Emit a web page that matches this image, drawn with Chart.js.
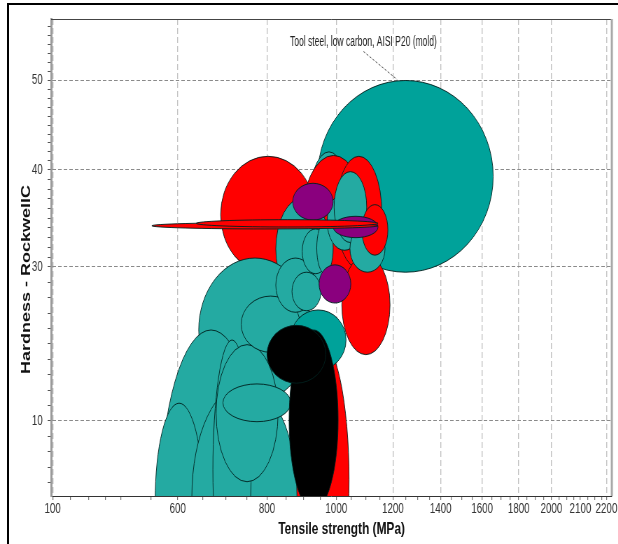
<!DOCTYPE html>
<html>
<head>
<meta charset="utf-8">
<script src="https://cdn.jsdelivr.net/npm/chart.js@4.4.1/dist/chart.umd.min.js"></script>
<style>
  html, body { margin: 0; padding: 0; background: #fff; overflow: hidden; }
  /* the original export is squeezed sideways, so draw wide and squeeze */
  #wrap { width: 883px; height: 544px; transform: scaleX(0.7); transform-origin: 0 0; }
</style>
</head>
<body>
<div id="wrap"><canvas id="chart" width="883" height="544"></canvas></div>
<script>
// --- axis ticks (value where the tick sits, label printed under it)
const xTickValues = [401, 600, 800, 1000, 1200, 1400, 1600, 1800, 2000, 2196, 2388];
const xTickLabels = ['100', '600', '800', '1000', '1200', '1400', '1600', '1800', '2000', '2100', '2200'];
const xMinorTicks = [425, 450, 475, 500, 550, 650, 700, 750, 850, 900, 950, 1050, 1100, 1150, 1250, 1300, 1350,
    1450, 1500, 1550, 1650, 1700, 1750, 1850, 1900, 1950, 2050, 2100, 2150, 2250, 2300, 2350];
const yTickValues = [10, 30, 40, 50];
const yTickLabels = ['10', '30', '40', '50'];
const yMinorTicks = [2, 4, 6, 8, 12, 14, 16, 18, 20, 22, 24, 26, 28, 31, 32, 33, 34, 35, 36, 37, 38, 39,
    41, 42, 43, 44, 45, 46, 47, 48, 49, 51, 52, 53, 54, 55, 56];

// --- material bubbles, back to front: tensile min, tensile max (MPa), hardness min, hardness max (HRC), family
const bubbles = [
    [942, 1658, 29.3, 50.0, 'deep'],     // Tool steel, low carbon, AISI P20 (mold)
    [913, 1045, 29.6, 42.0, 'teal'],
    [689, 935, 29.2, 41.5, 'red'],
    [893, 1100, 26.7, 41.6, 'red'],
    [999, 1158, 29.8, 41.5, 'red'],
    [1018, 1189, 18.6, 31.2, 'red'],
    [862, 1042, -15.8, 20.5, 'red'],
    [823, 980, 25.7, 37.1, 'teal'],
    [690, 862, 14.0, 27.2, 'teal'],
    [642, 922, 12.5, 30.9, 'teal'],
    [567, 787, -23.6, 21.8, 'teal'],
    [558, 651, -12.9, 12.3, 'teal'],
    [628, 881, -14.3, 14.8, 'teal'],
    [672, 760, -13.2, 20.5, 'teal'],
    [679, 829, 2.1, 19.9, 'teal'],
    [694, 864, 9.9, 14.8, 'teal'],
    [736, 890, 18.9, 26.2, 'teal'],
    [823, 934, 24.1, 30.9, 'teal'],
    [867, 952, 24.3, 29.3, 'teal'],
    [896, 977, 29.1, 33.9, 'teal'],
    [939, 990, 29.1, 34.6, 'teal'],
    [971, 1086, 31.7, 37.6, 'teal'],
    [993, 1103, 32.5, 39.8, 'teal'],
    [1045, 1170, 29.3, 34.3, 'teal'],
    [1086, 1181, 31.2, 36.4, 'red'],
    [869, 990, 34.8, 38.6, 'purple'],
    [990, 1144, 33.0, 35.2, 'purple'],
    [946, 1048, 25.3, 30.2, 'purple'],
    [862, 1032, 16.6, 24.4, 'deep'],
    [859, 1006, -1.6, 21.8, 'black'],
    [800, 967, 14.9, 22.4, 'black'],
    [552, 1144, 33.9, 34.55, 'red'],
    [637, 1144, 34.1, 34.85, 'red']
];

const noteText = 'Tool steel, low carbon, AISI P20 (mold)';

const familyColours = { deep: '#00a29a', teal: '#24aaa2', red: '#ff0000', purple: '#8a007e', black: '#000000' };
const EDGE = 'rgba(0, 32, 30, 0.9)';
const TICK_FONT = { family: '"Liberation Sans Narrow", "Liberation Sans", Arial, sans-serif', size: 14 };

// hardness axis is not linear: knots measured along the axis (fraction of plot height)
const hrcKnots = [0, 10, 30, 40, 50, 57];
const hrcFrac = [-0.004, 0.1574, 0.4805, 0.6841, 0.8711, 1.002];

function hrcToFrac(v) {
    let i = 0;
    while (i < hrcKnots.length - 2 && v > hrcKnots[i + 1]) i++;
    const t = (v - hrcKnots[i]) / (hrcKnots[i + 1] - hrcKnots[i]);
    return hrcFrac[i] + t * (hrcFrac[i + 1] - hrcFrac[i]);
}
function fracToHrc(f) {
    let i = 0;
    while (i < hrcFrac.length - 2 && f > hrcFrac[i + 1]) i++;
    const t = (f - hrcFrac[i]) / (hrcFrac[i + 1] - hrcFrac[i]);
    return hrcKnots[i] + t * (hrcKnots[i + 1] - hrcKnots[i]);
}

class HardnessScale extends Chart.LinearScale {
    getPixelForValue(v) { return this.getPixelForDecimal(hrcToFrac(v)); }
    getValueForPixel(p) { return fracToHrc(this.getDecimalForPixel(p)); }
}
HardnessScale.id = 'hardness';
Chart.register(HardnessScale);

function tickList(major, minor) {
    return major.map((v, i) => ({ value: v, major: true, idx: i }))
        .concat(minor.map(v => ({ value: v, major: false })))
        .sort((a, b) => a.value - b.value);
}

// white page, plot frame and the black export frame
const paperPlugin = {
    id: 'paper',
    beforeDraw(chart) {
        const ctx = chart.ctx;
        ctx.save();
        ctx.fillStyle = '#fff';
        ctx.fillRect(0, 0, chart.width, chart.height);
        ctx.restore();
    },
    afterDraw(chart) {
        const { ctx, chartArea: a } = chart;
        ctx.save();
        ctx.strokeStyle = '#444';
        ctx.lineWidth = 1;
        ctx.beginPath();
        ctx.moveTo(a.left, a.top + 0.5);
        ctx.lineTo(a.right, a.top + 0.5);
        ctx.stroke();
        ctx.strokeStyle = '#a8a8a8';
        ctx.lineWidth = 3;
        ctx.beginPath();
        ctx.moveTo(a.right + 0.5, a.top);
        ctx.lineTo(a.right + 0.5, a.bottom);
        ctx.stroke();

        ctx.strokeStyle = '#000';
        ctx.lineWidth = 3;
        ctx.beginPath();
        ctx.moveTo(11.5, 3);
        ctx.lineTo(11.5, chart.height);
        ctx.stroke();
        ctx.lineWidth = 2;
        ctx.beginPath();
        ctx.moveTo(10, 4);
        ctx.lineTo(chart.width, 4);
        ctx.stroke();

        // axis titles
        ctx.fillStyle = '#111';
        ctx.textAlign = 'center';
        ctx.textBaseline = 'middle';
        ctx.font = 'bold 17px "Liberation Sans", Arial, sans-serif';
        ctx.fillText('Tensile strength (MPa)', 488, 529);
        ctx.translate(38, 279.5);
        ctx.rotate(-Math.PI / 2);
        ctx.font = 'bold 18px "Liberation Sans", Arial, sans-serif';
        ctx.fillText('Hardness - RockwellC', 0, 0);
        ctx.restore();
    }
};

// property-range ellipses
const bubblePlugin = {
    id: 'bubbles',
    beforeDatasetsDraw(chart) {
        const { ctx, chartArea: a, scales: { x, y } } = chart;
        ctx.save();
        ctx.beginPath();
        ctx.rect(a.left, a.top, a.right - a.left, a.bottom - a.top);
        ctx.clip();
        bubbles.forEach(([t0, t1, h0, h1, fam]) => {
            const x0 = x.getPixelForValue(t0), x1 = x.getPixelForValue(t1);
            const y0 = y.getPixelForValue(h0), y1 = y.getPixelForValue(h1);
            ctx.beginPath();
            ctx.ellipse((x0 + x1) / 2, (y0 + y1) / 2, Math.abs(x1 - x0) / 2, Math.abs(y1 - y0) / 2, 0, 0, Math.PI * 2);
            ctx.fillStyle = familyColours[fam];
            ctx.fill();
            ctx.strokeStyle = EDGE;
            ctx.lineWidth = 1;
            ctx.stroke();
        });
        ctx.restore();
    },
    afterDatasetsDraw(chart) {
        const { ctx, scales: { x, y } } = chart;
        const b = bubbles[0];
        const cx = (x.getPixelForValue(b[0]) + x.getPixelForValue(b[1])) / 2;
        const top = y.getPixelForValue(b[3]);
        ctx.save();
        ctx.strokeStyle = '#555';
        ctx.lineWidth = 1;
        ctx.setLineDash([3, 2]);
        ctx.beginPath();
        ctx.moveTo(cx - 60, top - 29);
        ctx.lineTo(cx - 12, top - 1);
        ctx.stroke();
        ctx.setLineDash([]);
        ctx.fillStyle = '#222';
        ctx.font = '14px "Liberation Sans Narrow", "Liberation Sans", Arial, sans-serif';
        ctx.textAlign = 'center';
        ctx.translate(cx - 60, top - 34);
        ctx.scale(0.87, 1);
        ctx.fillText(noteText, 0, 0);
        ctx.restore();
    }
};

new Chart(document.getElementById('chart'), {
    type: 'scatter',
    data: {
        datasets: Object.keys(familyColours).map(fam => ({
            label: fam,
            data: bubbles.filter(b => b[4] === fam).map(b => ({ x: Math.sqrt(b[0] * b[1]), y: (b[2] + b[3]) / 2 })),
            pointRadius: 0,
            backgroundColor: familyColours[fam]
        }))
    },
    options: {
        responsive: false,
        animation: false,
        devicePixelRatio: 1,
        layout: { padding: { top: 19, right: 9, bottom: 0, left: 0 } },
        plugins: { legend: { display: false }, tooltip: { enabled: false } },
        scales: {
            x: {
                type: 'logarithmic',
                position: 'bottom',
                min: 399,
                max: 2427,
                bounds: 'data',
                afterBuildTicks: s => { s.ticks = tickList(xTickValues, xMinorTicks); },
                afterFit: s => { s.height = 48; },
                grid: {
                    color: c => (c.tick && c.tick.major && xTickLabels[c.tick.idx] !== '2100') ? '#c2c2c2' : 'rgba(0,0,0,0)',
                    lineWidth: 1.4,
                    tickColor: '#555',
                    tickLength: 4,
                    tickWidth: 1
                },
                border: { display: true, color: '#333', width: 1, dash: [6, 3] },
                ticks: {
                    autoSkip: false,
                    maxRotation: 0,
                    padding: 1,
                    color: '#333',
                    font: TICK_FONT,
                    callback: (v, i, ticks) => ticks[i].major ? xTickLabels[ticks[i].idx] : ''
                }
            },
            y: {
                type: 'hardness',
                position: 'left',
                min: 0,
                max: 57,
                bounds: 'data',
                afterBuildTicks: s => { s.ticks = tickList(yTickValues, yMinorTicks); },
                afterFit: s => { s.width = 73; },
                grid: {
                    color: c => (c.tick && c.tick.major) ? '#8a8a8a' : 'rgba(0,0,0,0)',
                    lineWidth: 1,
                    tickColor: '#555',
                    tickLength: 5,
                    tickWidth: 1
                },
                border: { display: true, color: '#9a9a9a', width: 3, dash: [5, 3] },
                ticks: {
                    autoSkip: false,
                    padding: 7,
                    color: '#333',
                    font: TICK_FONT,
                    callback: (v, i, ticks) => ticks[i].major ? yTickLabels[ticks[i].idx] : ''
                }
            }
        }
    },
    plugins: [paperPlugin, bubblePlugin]
});
</script>
</body>
</html>
